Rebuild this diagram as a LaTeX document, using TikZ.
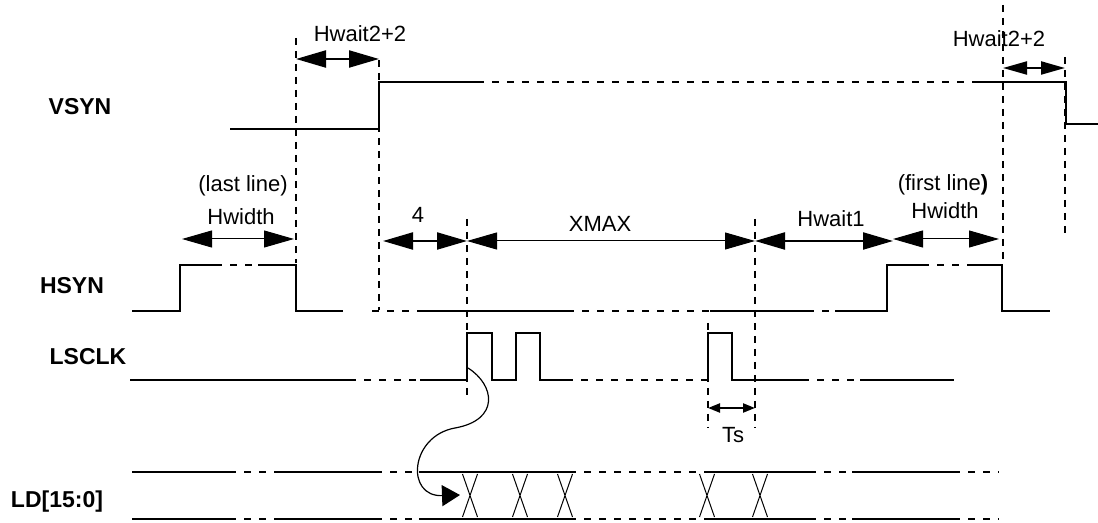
\documentclass[tikz,border=0pt]{standalone}
\usepackage{fontspec}
\setmainfont{Liberation Sans}
\usetikzlibrary{arrows.meta}
\tikzset{
  sig/.style={line width=1.1pt},
  brk/.style={line width=1.1pt,dash pattern=on 3.5pt off 4pt},
  guide/.style={line width=1pt,dash pattern=on 3.5pt off 3pt},
  dimbig/.style={{Triangle[length=15pt,width=8.5pt]}-{Triangle[length=15pt,width=8.5pt]},line width=1.1pt},
  dimthin/.style={{Triangle[length=15pt,width=8.5pt]}-{Triangle[length=15pt,width=8.5pt]},line width=0.5pt},
  dimsmall/.style={{Triangle[length=12pt,width=6.5pt]}-{Triangle[length=12pt,width=6.5pt]},line width=1.1pt},
  dimtiny/.style={{Triangle[length=6pt,width=4.5pt]}-{Triangle[length=6pt,width=4.5pt]},line width=1.1pt},
  signame/.style={font=\fontsize{11.5}{13}\selectfont\bfseries,inner sep=0pt},
  dimlabel/.style={font=\fontsize{11}{13}\selectfont,inner sep=0pt}
}
\begin{document}
\begin{tikzpicture}[x=0.5pt,y=-0.5pt]
  \useasboundingbox (0,0) rectangle (1098,523);

  % signal names
  \node[signame] (vsyn) at (80,107) {VSYN};
  \node[signame] (hsyn) at (72,286) {HSYN};
  \node[signame] (lsclk) at (88,357) {LSCLK};
  \node[signame] (ld) at (57,502) {LD[15:0]};

  % guide lines
  \draw[guide] (296,38) -- (296,263);
  \draw[guide] (379,60) -- (379,310);
  \draw[guide] (467,219) -- (467,400);
  \draw[guide] (708,323) -- (708,428);
  \draw[guide] (755,219) -- (755,428);
  \draw[guide] (1003,5) -- (1003,263);
  \draw[guide] (1065,57) -- (1065,237);

  % VSYN
  \draw[sig] (230,129) -| (379,82) -- (477,82);
  \draw[brk] (477,82) -- (978,82);
  \draw[sig] (978,82) -| (1066,124) -- (1098,124);

  % HSYN
  \draw[sig] (132,311) -| (180,265) -- (215,265);
  \draw[brk] (215,265) -- (258,265);
  \draw[sig] (258,265) -- (296,265) |- (343,311);
  \draw[brk] (372,311) -- (418,311);
  \draw[sig] (418,311) -- (567,311);
  \draw[brk] (567,311) -- (710,311);
  \draw[sig] (710,311) -- (807,311);
  \draw[brk] (807,311) -- (835,311);
  \draw[sig] (835,311) -| (887,265) -- (922,265);
  \draw[brk] (922,265) -- (967,265);
  \draw[sig] (967,265) -- (1002,265) |- (1050,311);

  % LSCLK
  \draw[sig] (130,380) -- (349,380);
  \draw[brk] (349,380) -- (420,380);
  \draw[sig] (420,380) -- (467,380) |- (492,333) |- (516,380) |- (540,333) |- (566,380);
  \draw[brk] (566,380) -- (708,380);
  \draw[sig] (708,380) |- (732,333) |- (802,380);
  \draw[brk] (802,380) -- (860,380);
  \draw[sig] (860,380) -- (954,380);

  % LD[15:0] bus
  \foreach \y in {472,519} {
    \draw[sig] (132,\y) -- (229,\y);
    \draw[brk] (229,\y) -- (276,\y);
    \draw[sig] (276,\y) -- (375,\y);
    \draw[brk] (375,\y) -- (419,\y);
    \draw[sig] (419,\y) -- (569,\y);
    \draw[brk] (569,\y) -- (709,\y);
    \draw[sig] (709,\y) -- (809,\y);
    \draw[brk] (809,\y) -- (852,\y);
    \draw[sig] (852,\y) -- (953,\y);
    \draw[brk] (953,\y) -- (999,\y);
  }
  \foreach \cx in {470,520,565,707,760}
    \draw[line width=0.5pt] (\cx-7.5,474) -- (\cx+7.5,517) (\cx+7.5,474) -- (\cx-7.5,517);

  % dimensions
  \draw[dimbig] (296,59) -- (379,59);
  \node[dimlabel] (hw2a) at (360,34) {Hwait2+2};
  \draw[dimsmall] (1003,68) -- (1065,68);
  \node[dimlabel] (hw2b) at (999,39) {Hwait2+2};
  \draw[dimthin] (182,239) -- (294,239);
  \node[dimlabel] (ll) at (243,186) {(last line)};
  \node[dimlabel] (hwa) at (241,217) {Hwidth};
  \draw[dimbig] (383,241) -- (467,241);
  \node[dimlabel] (four) at (418,215) {4};
  \draw[dimthin] (467,241) -- (755,241);
  \node[dimlabel] (xmax) at (600,224) {XMAX};
  \draw[dimbig] (755,241) -- (893,241);
  \node[dimlabel] (hw1) at (831,219) {Hwait1};
  \draw[dimthin] (893,239) -- (999,239);
  \node[dimlabel] (fl) at (943,185) {(first line\textbf{)}};
  \node[dimlabel] (hwb) at (945,211) {Hwidth};
  \draw[dimtiny] (708,408) -- (755,408);
  \node[dimlabel] (ts) at (733,435) {Ts};

  % clock edge to data
  \coordinate (clkedge) at (468,368);
  \coordinate (ldstart) at (460,495);
  \draw[line width=0.6pt,-{Triangle[length=9pt,width=10.5pt]}] (clkedge)
    .. controls (495,385) and (500,420) .. (455,428)
    .. controls (410,436) and (405,497) .. (ldstart);
\end{tikzpicture}
\end{document}
